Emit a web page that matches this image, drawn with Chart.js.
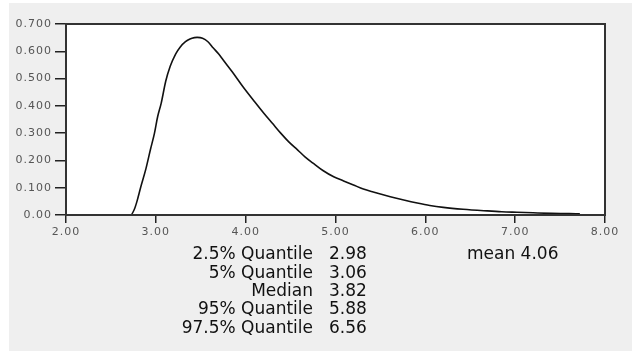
<!DOCTYPE html>
<html>
<head>
<meta charset="utf-8">
<script src="https://cdn.jsdelivr.net/npm/chart.js@4"></script>
<style>
body { margin: 0; background: #ffffff; }
canvas { display: block; }
</style>
</head>
<body>
<canvas id="densityChart" width="632" height="351"></canvas>
<script>
// density curve
var densX = [2.00, 2.30, 2.60, 2.72, 2.76, 2.79, 2.83, 2.89, 2.94, 2.985, 3.02, 3.06, 3.11, 3.16, 3.22,
	3.27, 3.33, 3.38, 3.43, 3.46, 3.52, 3.58, 3.64, 3.70, 3.75, 3.85, 3.97, 4.10, 4.20, 4.30, 4.39, 4.48,
	4.58, 4.66, 4.75, 4.86, 4.98, 5.09, 5.20, 5.31, 5.42, 5.61, 5.76, 5.91, 6.05, 6.20, 6.42,
	6.69, 6.85, 7.02, 7.20, 7.40, 7.60, 7.72];
var densY = [0, 0, 0, 0, 0.02, 0.05, 0.10, 0.17, 0.24, 0.30, 0.36, 0.41, 0.49, 0.545, 0.59,
	0.615, 0.635, 0.645, 0.65, 0.651, 0.648, 0.635, 0.612, 0.59, 0.568, 0.525, 0.47, 0.415, 0.374, 0.335, 0.30, 0.268,
	0.238, 0.213, 0.19, 0.163, 0.14, 0.125, 0.11, 0.095, 0.084, 0.067, 0.055, 0.044, 0.035, 0.028, 0.021,
	0.015, 0.012, 0.01, 0.008, 0.006, 0.005, 0.004];

// summary stats printed under the axis
var quantileLabels = ['2.5% Quantile', '5% Quantile', 'Median', '95% Quantile', '97.5% Quantile'];
var quantileValues = ['2.98', '3.06', '3.82', '5.88', '6.56'];
var meanValue = '4.06';

var xTicks = [2, 3, 4, 5, 6, 7, 8];
var yTicks = [0, 0.1, 0.2, 0.3, 0.4, 0.5, 0.6, 0.7];

var points = [];
for (var i = 0; i < densX.length; i++) {
	points.push({x: densX[i], y: densY[i]});
}

var panelPlugin = {
	id: 'panel',
	beforeDraw: function(chart) {
		var ctx = chart.ctx;
		var a = chart.chartArea;
		ctx.save();
		ctx.fillStyle = '#ffffff';
		ctx.fillRect(0, 0, chart.width, chart.height);
		ctx.fillStyle = '#efefef';
		ctx.fillRect(9, 3, chart.width - 9, chart.height - 3);
		ctx.fillStyle = '#ffffff';
		ctx.fillRect(a.left, a.top, a.right - a.left, a.bottom - a.top);
		ctx.restore();
		// spaced-out tick labels
		ctx.letterSpacing = '1px';
	},
	afterDraw: function(chart) {
		var ctx = chart.ctx;
		var a = chart.chartArea;
		ctx.save();
		ctx.letterSpacing = '0px';
		ctx.strokeStyle = '#333333';
		ctx.lineWidth = 2;
		ctx.strokeRect(a.left, a.top, a.right - a.left, a.bottom - a.top);

		ctx.fillStyle = '#111111';
		ctx.font = '17px "DejaVu Sans"';
		ctx.textBaseline = 'middle';
		for (var i = 0; i < quantileLabels.length; i++) {
			var y = 255 + i * 18.3;
			ctx.textAlign = 'right';
			ctx.fillText(quantileLabels[i], 313, y);
			ctx.textAlign = 'left';
			ctx.fillText(quantileValues[i], 329, y);
		}
		ctx.textAlign = 'left';
		ctx.fillText('mean ' + meanValue, 467, 255);
		ctx.restore();
		ctx.letterSpacing = '0px';
	}
};

var tickFont = {family: 'DejaVu Sans', size: 11};

new Chart(document.getElementById('densityChart'), {
	type: 'line',
	data: {
		datasets: [{
			data: points,
			borderColor: '#111111',
			borderWidth: 1.6,
			pointRadius: 0,
			cubicInterpolationMode: 'monotone',
			fill: false
		}]
	},
	options: {
		responsive: false,
		animation: false,
		layout: {padding: {left: 0, top: 24, right: 27, bottom: 0}},
		plugins: {legend: {display: false}, tooltip: {enabled: false}},
		scales: {
			x: {
				type: 'linear',
				min: 2,
				max: 8,
				afterBuildTicks: function(scale) {
					scale.ticks = xTicks.map(function(v) { return {value: v}; });
				},
				afterFit: function(scale) { scale.height = 136; },
				ticks: {
					color: '#555555',
					font: tickFont,
					padding: 3,
					maxRotation: 0,
					callback: function(v) { return v.toFixed(2); }
				},
				grid: {drawOnChartArea: false, tickLength: 8, color: '#222222', lineWidth: 1.5},
				border: {display: false}
			},
			y: {
				min: 0,
				max: 0.7,
				afterBuildTicks: function(scale) {
					scale.ticks = yTicks.map(function(v) { return {value: v}; });
				},
				afterFit: function(scale) { scale.width = 66; },
				ticks: {
					color: '#555555',
					font: tickFont,
					padding: 3,
					callback: function(v) { return v === 0 ? '0.00' : v.toFixed(3); }
				},
				grid: {drawOnChartArea: false, tickLength: 11, color: '#222222', lineWidth: 1.5},
				border: {display: false}
			}
		}
	},
	plugins: [panelPlugin]
});
</script>
</body>
</html>
